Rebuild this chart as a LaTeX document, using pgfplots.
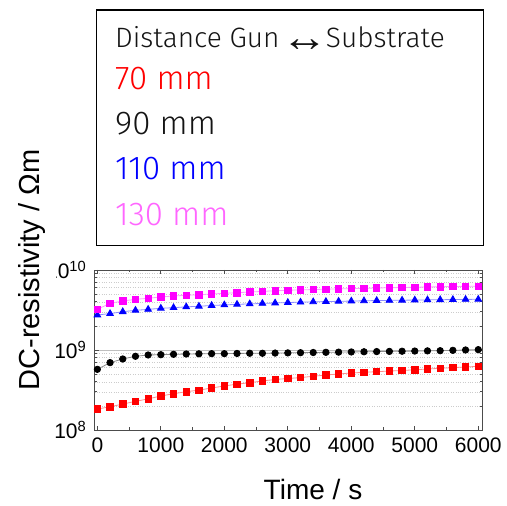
\documentclass[border=0pt]{standalone}
\usepackage{graphicx}
\usepackage{pgfplots}
\usepackage{pgfplotstable}
\pgfplotsset{compat=1.18}
\usepackage{fontspec}
\setmainfont{Liberation Sans}
\newfontfamily\boxfont{Fira Sans Light}
\newfontfamily\arrowfont{Liberation Sans}
\definecolor{cRed}{RGB}{255,0,0}
\definecolor{cBlue}{RGB}{0,0,255}
\definecolor{cMag}{RGB}{255,0,255}
\definecolor{cPink}{RGB}{255,102,255}
\definecolor{cBlk}{RGB}{20,20,20}

\pgfplotstableread{
t    r       k       b       m
0    1.83e8  5.73e8  2.74e9  3.22e9
200  1.95e8  6.95e8  2.85e9  3.83e9
400  2.11e8  7.72e8  3.01e9  4.10e9
600  2.28e8  8.34e8  3.13e9  4.30e9
800  2.45e8  8.66e8  3.22e9  4.43e9
1000 2.66e8  8.73e8  3.32e9  4.60e9
1200 2.84e8  8.83e8  3.38e9  4.73e9
1400 3.01e8  8.91e8  3.46e9  4.83e9
1600 3.15e8  8.95e8  3.52e9  4.90e9
1800 3.35e8  9.00e8  3.60e9  5.01e9
2000 3.55e8  9.00e8  3.66e9  5.11e9
2200 3.74e8  9.05e8  3.72e9  5.20e9
2400 3.90e8  9.10e8  3.77e9  5.30e9
2600 4.10e8  9.10e8  3.82e9  5.40e9
2800 4.28e8  9.15e8  3.87e9  5.50e9
3000 4.40e8  9.20e8  3.92e9  5.58e9
3200 4.52e8  9.25e8  3.96e9  5.64e9
3400 4.69e8  9.30e8  4.00e9  5.70e9
3600 4.87e8  9.35e8  4.03e9  5.75e9
3800 5.01e8  9.40e8  4.06e9  5.80e9
4000 5.16e8  9.45e8  4.09e9  5.85e9
4200 5.26e8  9.50e8  4.12e9  5.90e9
4400 5.36e8  9.55e8  4.15e9  5.96e9
4600 5.45e8  9.60e8  4.17e9  6.00e9
4800 5.55e8  9.65e8  4.19e9  6.04e9
5000 5.65e8  9.70e8  4.21e9  6.08e9
5200 5.79e8  9.75e8  4.23e9  6.13e9
5400 5.90e8  9.80e8  4.25e9  6.18e9
5600 6.02e8  9.90e8  4.27e9  6.22e9
5800 6.13e8  1.00e9  4.29e9  6.25e9
6000 6.25e8  1.01e9  4.30e9  6.28e9
}\datatab

\begin{document}
\begin{tikzpicture}[x=1bp,y=1bp]
\useasboundingbox (0,0) rectangle (506,506);
\begin{axis}[
  at={(94.5bp,76bp)}, anchor=south west,
  scale only axis, width=388.2bp, height=160bp,
  ymode=log, xmin=-45, xmax=6070, ymin=1e8, ymax=1e10,
  xtick={0,1000,2000,3000,4000,5000,6000},
  xticklabels={0,1000,2000,3000,4000,5000,6000},
  minor xtick={500,1500,2500,3500,4500,5500},
  ytick={1e8,1e9,1e10},
  yticklabels={10\textsuperscript{8},10\textsuperscript{9},10\textsuperscript{10}},
  minor ytick={2e8,3e8,4e8,5e8,6e8,7e8,8e8,9e8,2e9,3e9,4e9,5e9,6e9,7e9,8e9,9e9},
  tick align=inside,
  xtick pos=both, ytick pos=both,
  major tick length=4.5bp, minor tick length=2.5bp,
  axis line style={draw=black!70, line width=0.9bp},
  every tick/.style={draw=black!70, line width=0.7bp},
  ymajorgrids, yminorgrids,
  major grid style={draw=black!25, line width=0.7bp},
  minor grid style={draw=black!20, dotted, line width=0.5bp},
  xticklabel style={font=\fontsize{21bp}{24bp}\selectfont, inner sep=0pt, yshift=-8bp},
  yticklabel style={font=\fontsize{21bp}{24bp}\selectfont, inner sep=0pt, anchor=east, xshift=-8bp},
]
\addplot[draw=cRed!45, line width=0.8bp, mark=square*, mark size=3.2bp,
  mark options={draw=cRed, fill=cRed, solid}] table[x=t,y=r]{\datatab};
\addplot[draw=black!45, line width=0.8bp, mark=*, mark size=3.2bp,
  mark options={draw=black, fill=black, solid}] table[x=t,y=k]{\datatab};
\addplot[draw=cBlue!45, line width=0.8bp, mark=triangle*, mark size=3.8bp,
  mark options={draw=cBlue, fill=cBlue, solid}] table[x=t,y=b]{\datatab};
\addplot[draw=cMag!40, line width=0.8bp, mark=square*, mark size=3.2bp,
  mark options={draw=cMag, fill=cMag, solid}] table[x=t,y=m]{\datatab};
\end{axis}
% axis titles
\node[rotate=90, anchor=base, fill=white, inner xsep=2bp, inner ysep=11bp,
  font=\fontsize{29bp}{33bp}\selectfont] at (39,236) {DC-resistivity / Ωm};
\node[anchor=base, inner sep=0pt, font=\fontsize{28bp}{32bp}\selectfont] at (313,6) {Time / s};
% text box
\draw[line width=1.2bp, black] (96.7,496) rectangle (483.3,260.3);
\node[anchor=base west, inner sep=0pt, font=\boxfont\fontsize{28bp}{32bp}\selectfont, text=cBlk]
  at (115,458.3) {Distance Gun\kern-6bp\ {\arrowfont\fontsize{26bp}{30bp}\selectfont\raisebox{-4bp}{\scalebox{1.8}[1.6]{↔}}}\kern-10bp\ Substrate};
\node[anchor=base west, inner sep=0pt, font=\boxfont\fontsize{33bp}{38bp}\selectfont, text=cRed]
  at (115,416) {70 mm};
\node[anchor=base west, inner sep=0pt, font=\boxfont\fontsize{33bp}{38bp}\selectfont, text=cBlk]
  at (115,371) {90 mm};
\node[anchor=base west, inner sep=0pt, font=\boxfont\fontsize{33bp}{38bp}\selectfont, text=cBlue]
  at (115,326) {110 mm};
\node[anchor=base west, inner sep=0pt, font=\boxfont\fontsize{33bp}{38bp}\selectfont, text=cPink]
  at (115,280.3) {130 mm};
\end{tikzpicture}
\end{document}
